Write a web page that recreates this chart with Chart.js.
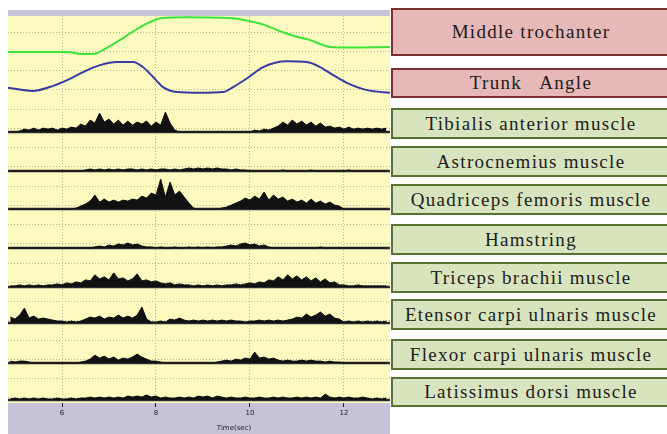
<!DOCTYPE html>
<html>
<head>
<meta charset="utf-8">
<script src="https://cdn.jsdelivr.net/npm/chart.js@4.4.1/dist/chart.umd.min.js"></script>
<style>
  html, body { margin: 0; padding: 0; background: #fff; }
  body { width: 667px; height: 434px; position: relative; overflow: hidden; }
  #wrap { position: absolute; left: 0; top: 0; width: 390px; height: 434px; }
  .lbl {
    position: absolute; left: 391px; width: 280px; box-sizing: border-box;
    border: 2px solid; display: flex; align-items: center; justify-content: center;
    font-family: "Liberation Serif", serif; font-size: 19px; letter-spacing: 1.3px;
    color: #1c1c1c; white-space: pre;
  }
  .pink { background: #e6b9b8; border-color: #7e2e2e; }
  .green { background: #d8e4bd; border-color: #587230; }
</style>
</head>
<body>
<div id="wrap"><canvas id="myChart"></canvas></div>
<script>
  // row titles (top to bottom)
  const rowNames = ["Middle trochanter", "Trunk   Angle", "Tibialis anterior muscle",
    "Astrocnemius muscle", "Quadriceps femoris muscle", "Hamstring",
    "Triceps brachii muscle", "Etensor carpi ulnaris muscle",
    "Flexor carpi ulnaris muscle", "Latissimus dorsi muscle"];

  const xTicks = [6, 8, 10, 12];

  // kinematic traces, value relative to the row baseline
  const trochTime = [4.85, 6.11, 6.42, 6.74, 7.23, 7.66, 8.09, 9.64, 10.0, 10.32, 10.64, 10.96, 11.28, 11.70, 12.98];
  const trochValue = [0, 0, -0.05, -0.03, 0.31, 0.65, 0.88, 0.88, 0.80, 0.70, 0.54, 0.41, 0.31, 0.13, 0.13];

  const trunkTime = [4.85, 5.38, 5.74, 6.11, 6.45, 6.81, 7.17, 7.51, 7.72, 7.94, 8.15, 8.45, 8.94,
    9.43, 9.64, 9.94, 10.28, 10.79, 11.21, 11.49, 11.77, 12.06, 12.49, 12.98];
  const trunkValue = [0.03, -0.05, 0.05, 0.23, 0.44, 0.62, 0.70, 0.70, 0.57, 0.31, 0.05, -0.08, -0.10,
    -0.08, 0.05, 0.28, 0.57, 0.72, 0.70, 0.57, 0.36, 0.16, -0.03, -0.10];

  // EMG amplitude, one sample every 0.1 s from 4.9 s
  const tibialis = [0,0,1,3,2,4,2,4,3,4, 2,4,3,5,4,8,6,12,9,19, 10,13,8,12,7,11,7,10,8,11,
    6,10,7,20,9,2,0,0,0,0, 0,0,0,0,0,0,0,0,0,0, 0,0,2,1,3,2,4,6,10,7,
    12,8,11,7,10,6,9,5,6,4, 5,3,5,3,4,3,4,3,4,3, 4];
  const astrocnemius = [0,0,0,0,0,0,0,0,0,0, 0,0,0,0,0,0,1,2,1,2, 1,2,1,2,1,2,2,1,2,1,
    2,1,2,2,1,2,1,2,3,2, 3,2,3,2,3,2,2,1,2,1, 1,0,0,0,0,0,0,0,1,0,
    0,0,0,0,1,0,0,0,0,0, 0,0,1,0,0,0,0,0,0,0, 0];
  const quadriceps = [0,0,0,0,0,0,0,0,0,0, 0,0,0,0,1,3,5,8,14,7, 10,7,9,7,9,8,10,9,13,11,
    16,14,30,12,27,14,18,12,6,1, 0,0,0,0,0,1,2,4,6,8, 11,9,13,10,17,9,14,10,12,8,
    10,7,9,6,10,6,8,5,7,4, 3,0,0,0,0,0,0,0,0,0, 0];
  const hamstring = [0,0,0,0,0,0,0,0,0,0, 0,0,0,0,0,0,0,0,1,2, 1,3,2,4,3,5,3,4,2,1,
    1,0,1,0,0,1,0,0,1,0, 1,0,1,0,1,1,2,3,2,4, 5,3,4,2,3,1,0,0,0,0,
    0,0,0,0,0,0,1,0,0,0, 0,0,0,0,0,0,0,0,0,0, 0];
  const triceps = [1,1,2,1,2,1,2,1,2,2, 3,2,4,3,5,4,7,6,12,8, 10,7,14,8,9,6,8,13,6,7,
    5,6,4,3,4,2,3,2,2,1, 2,1,2,1,2,1,2,2,3,2, 3,4,3,5,4,7,6,10,7,12,
    8,11,7,10,6,9,5,8,4,5, 2,2,1,1,2,1,1,1,1,1, 1];
  const etensor = [6,4,8,15,5,7,4,5,4,3, 2,2,1,2,1,2,4,6,5,7, 4,6,5,8,5,7,5,8,16,4,
    1,1,2,1,4,3,5,3,2,3, 2,3,2,3,2,3,2,3,2,2, 1,2,2,3,2,3,2,3,2,3,
    4,6,5,9,6,8,11,7,9,5, 4,1,2,1,2,1,2,1,2,1, 2];
  const flexor = [2,1,2,2,1,0,0,0,0,0, 0,0,0,0,0,1,2,4,8,5, 7,4,6,3,5,4,6,9,6,4,
    2,2,1,0,0,0,0,0,0,0, 0,0,0,0,1,2,3,2,4,3, 5,4,11,5,6,4,5,3,2,3,
    2,2,3,2,3,2,2,1,2,1, 1,0,0,0,0,0,0,0,0,0, 0];
  const latissimus = [1,2,1,2,1,2,1,2,1,1, 2,1,1,2,1,2,2,3,2,3, 2,3,2,3,2,4,3,4,3,5,
    3,4,2,3,2,2,3,2,3,2, 4,3,4,2,4,3,2,3,2,2, 3,2,2,3,2,2,3,2,3,2,
    2,3,2,3,2,3,2,6,3,2, 3,2,3,2,2,3,2,1,2,1, 2];

  const emgSeries = [tibialis, astrocnemius, quadriceps, hamstring, triceps, etensor, flexor, latissimus];
  const emgTimes = tibialis.map((_, k) => +(4.9 + 0.1 * k).toFixed(1));

  const X_MIN = 4.851, X_MAX = 12.979;
  const EMG_SCALE = 0.026; // amplitude unit -> row height
  // baseline of each row on the stacked y axis (top to bottom)
  const rowOffset = [8.98, 8.02, 6.90, 5.89, 4.90, 3.89, 2.88, 1.94, 0.90, -0.06];

  // label boxes on the right: [top, height, class]
  const boxLayout = [[8, 48, 'pink'], [68, 30, 'pink'], [108, 31, 'green'], [146, 31, 'green'],
    [184, 31, 'green'], [224, 31, 'green'], [262, 31, 'green'], [299, 31, 'green'],
    [339, 31, 'green'], [377, 30, 'green']];

  rowNames.forEach((name, i) => {
    const d = document.createElement('div');
    d.className = 'lbl ' + boxLayout[i][2];
    d.style.top = boxLayout[i][0] + 'px';
    d.style.height = boxLayout[i][1] + 'px';
    d.textContent = name;
    document.body.appendChild(d);
  });

  const datasets = [];
  datasets.push({
    label: rowNames[0],
    data: trochTime.map((t, k) => ({x: t, y: rowOffset[0] + trochValue[k]})),
    borderColor: '#3de43d', borderWidth: 2, pointRadius: 0, tension: 0.2
  });
  datasets.push({
    label: rowNames[1],
    data: trunkTime.map((t, k) => ({x: t, y: rowOffset[1] + trunkValue[k]})),
    borderColor: '#3a3aa6', borderWidth: 2, pointRadius: 0,
    cubicInterpolationMode: 'monotone'
  });
  emgSeries.forEach((amp, j) => {
    const base = rowOffset[j + 2];
    datasets.push({
      label: rowNames[j + 2],
      data: emgTimes.map((t, k) => ({x: t, y: base + amp[k] * EMG_SCALE})),
      borderColor: '#111', backgroundColor: '#111', borderWidth: 1,
      pointRadius: 0, tension: 0, fill: {value: base}
    });
    datasets.push({
      label: rowNames[j + 2] + ' base',
      data: [{x: X_MIN, y: base}, {x: X_MAX, y: base}],
      borderColor: '#2b2b33', borderWidth: 2.5, pointRadius: 0
    });
  });

  const bgPlugin = {
    id: 'bg',
    beforeDraw(chart) {
      const {ctx, chartArea: a} = chart;
      ctx.save();
      ctx.fillStyle = '#c6c2d8';
      ctx.fillRect(a.left, 10, a.right - a.left, chart.height - 10);
      ctx.fillStyle = '#fcfabe';
      ctx.fillRect(a.left, a.top, a.right - a.left, a.bottom - a.top);
      ctx.restore();
    },
    afterDraw(chart) {
      const ctx = chart.ctx;
      ctx.save();
      ctx.fillStyle = '#222';
      ctx.font = '7px "DejaVu Sans"';
      ctx.textAlign = 'center';
      ctx.fillText('Time(sec)', chart.scales.x.getPixelForValue(9.66), 430);
      ctx.restore();
    }
  };

  let ctx = document.getElementById('myChart').getContext('2d');

  let chart = new Chart(ctx, {
    type: 'line',
    data: { datasets: datasets },
    plugins: [bgPlugin],
    options: {
      responsive: true,
      maintainAspectRatio: false,
      animation: false,
      layout: { padding: {left: 8, top: 16, right: 0, bottom: 0} },
      plugins: { legend: { display: false }, tooltip: { enabled: false } },
      scales: {
        x: {
          type: 'linear', min: X_MIN, max: X_MAX,
          afterBuildTicks: s => { s.ticks = xTicks.map(v => ({value: v})); },
          afterFit: s => { s.height = 31; },
          ticks: { font: {size: 7, family: 'DejaVu Sans'}, color: '#222', padding: 2 },
          grid: { color: '#b9b79a', tickLength: 4, tickColor: '#222', tickBorderDash: [] },
          border: { display: false, dash: [1, 2] }
        },
        y: {
          min: -0.136, max: 9.916,
          afterBuildTicks: s => {
            const t = [];
            for (let v = 0; v <= 9.5; v += 0.5) t.push({value: v});
            s.ticks = t;
          },
          afterFit: s => { s.width = 0; },
          ticks: { display: false },
          grid: { color: '#b9b79a', drawTicks: false },
          border: { display: false, dash: [1, 2] }
        }
      }
    }
  });
</script>
</body>
</html>
